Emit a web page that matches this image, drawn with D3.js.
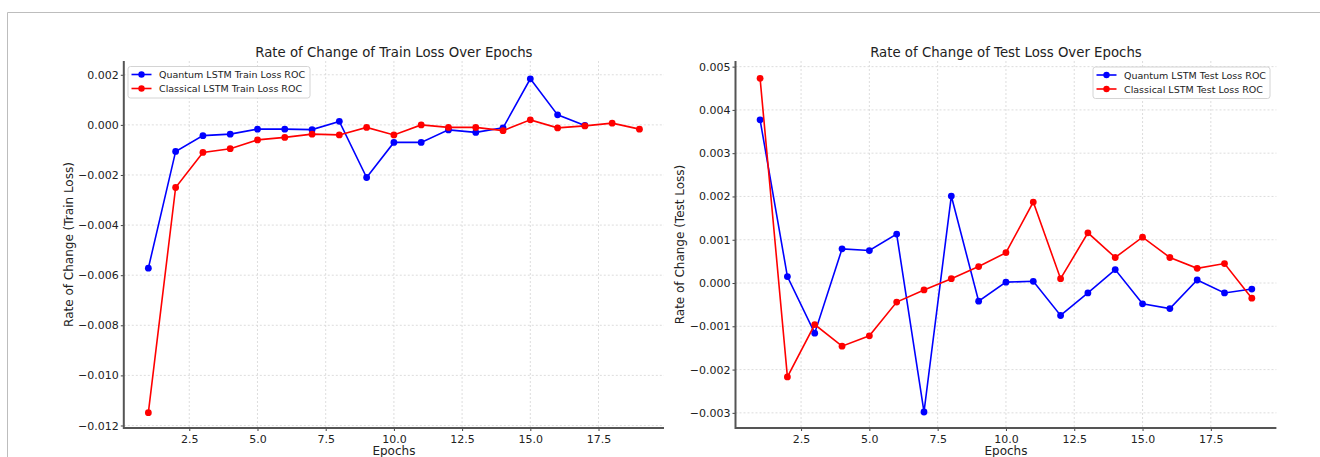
<!DOCTYPE html>
<html>
<head>
<meta charset="utf-8">
<script src="https://cdn.jsdelivr.net/npm/d3@7"></script>
<style>
  body { margin: 0; background: #fff; }
  svg text { font-family: "DejaVu Sans", sans-serif; fill: #222; }
</style>
</head>
<body>
<svg id="chart" width="1320" height="457"></svg>
<script>
// epochs along x
var epochs = [1, 2, 3, 4, 5, 6, 7, 8, 9, 10, 11, 12, 13, 14, 15, 16, 17, 18, 19];

// rate of change of train loss
var trainQuantum = [-0.00572, -0.00106, -0.00043, -0.00037, -0.00017, -0.00017, -0.00019, 0.00014, -0.0021,
                    -0.0007, -0.0007, -0.0002, -0.0003, -0.00012, 0.00184, 0.0004, -0.00002];
var trainClassical = [-0.01149, -0.0025, -0.0011, -0.00095, -0.0006, -0.0005, -0.00037, -0.0004, -0.0001,
                      -0.0004, 0.0, -0.0001, -0.0001, -0.00023, 0.0002, -0.00012, -0.00004, 0.00007, -0.00017];

// rate of change of test loss
var testQuantum = [0.00377, 0.00015, -0.00116, 0.00079, 0.00075, 0.00113, -0.00298, 0.00201, -0.00042,
                   0.00002, 0.00004, -0.00075, -0.00023, 0.00031, -0.00048, -0.00059, 0.00007, -0.00023, -0.00014];
var testClassical = [0.00473, -0.00217, -0.00096, -0.00146, -0.00122, -0.00044, -0.00016, 0.0001, 0.00038,
                     0.0007, 0.00187, 0.0001, 0.00116, 0.00059, 0.00106, 0.00059, 0.00034, 0.00045, -0.00035];

var xTicks = [2.5, 5.0, 7.5, 10.0, 12.5, 15.0, 17.5];
var trainTicks = [-0.012, -0.010, -0.008, -0.006, -0.004, -0.002, 0.000, 0.002];
var testTicks = [-0.003, -0.002, -0.001, 0.000, 0.001, 0.002, 0.003, 0.004, 0.005];

var svg = d3.select("svg#chart");
var top_ = 61, bottom = 428;

// light frame around the figure
svg.append("path")
  .attr("d", "M7.5,457V12.5H1320")
  .attr("fill", "none")
  .attr("stroke", "#bdbdbd")
  .attr("stroke-width", 1);

function drawPanel(cfg) {
  var x = d3.scaleLinear().domain([0.1, 19.9]).range(cfg.xRange);
  var y = d3.scaleLinear().domain(cfg.yDomain).range([bottom, top_]);
  var g = svg.append("g");
  var x0 = cfg.xRange[0], x1 = cfg.xRange[1];

  // dashed grid
  g.selectAll(".gx").data(xTicks).enter().append("line")
    .attr("x1", function(d) { return x(d); })
    .attr("x2", function(d) { return x(d); })
    .attr("y1", top_).attr("y2", bottom)
    .attr("stroke", "#d4d4d4").attr("stroke-width", 0.8).attr("stroke-dasharray", "2,2");
  g.selectAll(".gy").data(cfg.yTicks).enter().append("line")
    .attr("x1", x0).attr("x2", x1)
    .attr("y1", function(d) { return y(d); })
    .attr("y2", function(d) { return y(d); })
    .attr("stroke", "#d4d4d4").attr("stroke-width", 0.8).attr("stroke-dasharray", "2,2");

  // axes
  var ax = g.append("g").attr("transform", "translate(0," + bottom + ")")
    .call(d3.axisBottom(x).tickValues(xTicks).tickFormat(d3.format(".1f")).tickSize(3).tickPadding(4));
  var ay = g.append("g").attr("transform", "translate(" + x0 + ",0)")
    .call(d3.axisLeft(y).tickValues(cfg.yTicks).tickFormat(d3.format(".3f")).tickSize(3).tickPadding(2));
  [ax, ay].forEach(function(a) {
    a.select(".domain").remove();
    a.selectAll(".tick line").attr("stroke", "#444");
    a.selectAll("text").attr("font-size", 11).attr("font-family", "DejaVu Sans").attr("fill", "#222");
  });

  // spines (left and bottom only)
  g.append("path")
    .attr("d", "M" + x0 + "," + top_ + "V" + bottom + "H" + x1)
    .attr("fill", "none").attr("stroke", "#555").attr("stroke-width", 2);

  // series
  cfg.series.forEach(function(s) {
    var pts = s.values.map(function(v, i) { return [epochs[i], v]; });
    var line = d3.line().x(function(d) { return x(d[0]); }).y(function(d) { return y(d[1]); });
    g.append("path").datum(pts)
      .attr("d", line).attr("fill", "none")
      .attr("stroke", s.color).attr("stroke-width", 1.6);
    g.selectAll(null).data(pts).enter().append("circle")
      .attr("cx", function(d) { return x(d[0]); })
      .attr("cy", function(d) { return y(d[1]); })
      .attr("r", 3.4).attr("fill", s.color);
  });

  // titles
  var cx = (x0 + x1) / 2;
  g.append("text").attr("x", cx).attr("y", 56.5).attr("text-anchor", "middle")
    .attr("font-size", 13.3).text(cfg.title);
  g.append("text").attr("x", cx).attr("y", 455).attr("text-anchor", "middle")
    .attr("font-size", 12).text("Epochs");
  g.append("text")
    .attr("transform", "translate(" + cfg.yLabelX + "," + ((top_ + bottom) / 2) + ") rotate(-90)")
    .attr("text-anchor", "middle").attr("font-size", 12).text(cfg.yLabel);

  // legend
  var lg = g.append("g").attr("transform", "translate(" + cfg.legend[0] + "," + cfg.legend[1] + ")");
  lg.append("rect").attr("width", cfg.legend[2]).attr("height", 31.5).attr("rx", 2.5)
    .attr("fill", "#fff").attr("fill-opacity", 0.85).attr("stroke", "#cfcfcf").attr("stroke-width", 0.9);
  cfg.series.forEach(function(s, i) {
    var ly = 8 + i * 14;
    lg.append("line").attr("x1", 3.5).attr("x2", 23.5).attr("y1", ly).attr("y2", ly)
      .attr("stroke", s.color).attr("stroke-width", 1.6);
    lg.append("circle").attr("cx", 13.5).attr("cy", ly).attr("r", 3.2).attr("fill", s.color);
    lg.append("text").attr("x", 31).attr("y", ly + 3.5).attr("font-size", 9.5).text(s.name);
  });
}

drawPanel({
  xRange: [123.8, 664],
  yDomain: [-0.0121, 0.00255],
  yTicks: trainTicks,
  title: "Rate of Change of Train Loss Over Epochs",
  yLabel: "Rate of Change (Train Loss)",
  yLabelX: 73,
  legend: [128, 66.5, 182],
  series: [
    { name: "Quantum LSTM Train Loss ROC", values: trainQuantum, color: "#0000ff" },
    { name: "Classical LSTM Train Loss ROC", values: trainClassical, color: "#ff0000" }
  ]
});

drawPanel({
  xRange: [735.5, 1276.4],
  yDomain: [-0.00335, 0.00513],
  yTicks: testTicks,
  title: "Rate of Change of Test Loss Over Epochs",
  yLabel: "Rate of Change (Test Loss)",
  yLabelX: 684,
  legend: [1093, 67, 177],
  series: [
    { name: "Quantum LSTM Test Loss ROC", values: testQuantum, color: "#0000ff" },
    { name: "Classical LSTM Test Loss ROC", values: testClassical, color: "#ff0000" }
  ]
});
</script>
</body>
</html>
